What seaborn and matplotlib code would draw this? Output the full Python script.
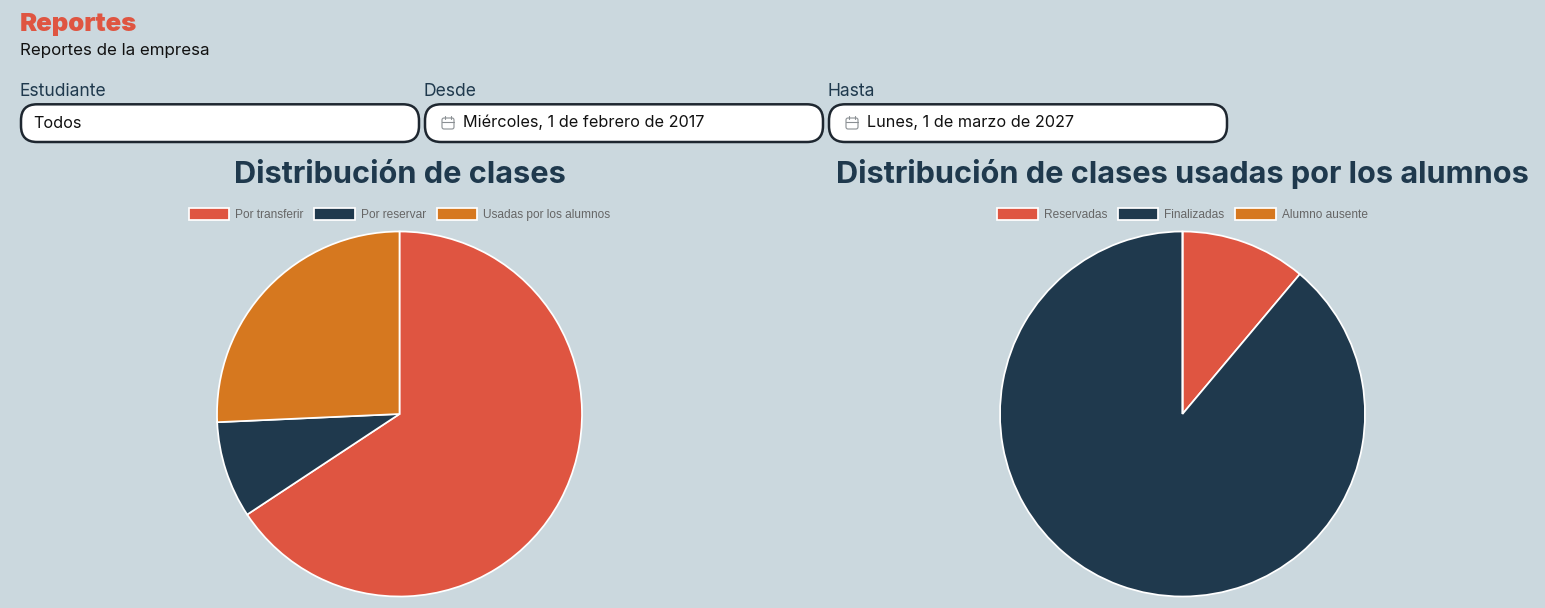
import matplotlib
matplotlib.use("Agg")
import matplotlib.pyplot as plt
from matplotlib.patches import FancyBboxPatch
import seaborn as sns

WIDTH, HEIGHT = 1545, 608
BG = "#CBD8DE"
RED, NAVY, ORANGE = "#DF5541", "#1F394D", "#D6781F"

page_title = "Reportes"
page_subtitle = "Reportes de la empresa"
field_labels = ["Estudiante", "Desde", "Hasta"]
field_values = ["Todos", "Miércoles, 1 de febrero de 2017", "Lunes, 1 de marzo de 2027"]

class_title = "Distribución de clases"
class_labels = ["Por transferir", "Por reservar", "Usadas por los alumnos"]
class_counts = [23, 3, 9]

used_title = "Distribución de clases usadas por los alumnos"
used_labels = ["Reservadas", "Finalizadas", "Alumno ausente"]
used_counts = [1, 8, 0]

sns.set_theme(style="white", rc={"figure.facecolor": BG, "axes.facecolor": "none"})
palette = sns.color_palette([RED, NAVY, ORANGE])
UI_FONT = "Inter"

fig = plt.figure(figsize=(WIDTH / 100, HEIGHT / 100), dpi=100)

# Full-page axes in pixel units for the header and the form fields
page = fig.add_axes([0, 0, 1, 1])
page.set_xlim(0, WIDTH)
page.set_ylim(HEIGHT, 0)
page.axis("off")

page.text(20, 31.5, page_title, color=RED, fontsize=18.5, fontweight="black",
          family=UI_FONT, va="baseline")
page.text(20, 54.5, page_subtitle, color="#111111", fontsize=12.2,
          family=UI_FONT, va="baseline")


def calendar_icon(ax, x, y):
    grey = "#8A8F93"
    ax.add_patch(FancyBboxPatch((x, y - 5), 12, 11, boxstyle="round,pad=0,rounding_size=2",
                                fc="none", ec=grey, lw=0.8))
    ax.plot([x, x + 12], [y - 1.5, y - 1.5], color=grey, lw=0.8)
    ax.plot([x + 3, x + 3], [y - 7, y - 4], color=grey, lw=0.8)
    ax.plot([x + 9, x + 9], [y - 7, y - 4], color=grey, lw=0.8)


field_lefts = [21, 425, 829]
for left, label, value, has_icon in zip(field_lefts, field_labels, field_values, [False, True, True]):
    page.text(left - 1.8, 95.5, label, color=NAVY, fontsize=12.6, family=UI_FONT, va="baseline")
    page.add_patch(FancyBboxPatch((left, 104.3), 398, 37.7,
                                  boxstyle="round,pad=0,rounding_size=16",
                                  fc="white", ec="#1E2730", lw=1.8))
    if has_icon:
        calendar_icon(page, left + 17, 123)
    page.text(left + (38 if has_icon else 12.5), 127.5, value, color="#111111",
              fontsize=11.7, family=UI_FONT, va="baseline")


def draw_pie(center_x, title, labels, counts):
    radius = 182.5
    center_y = 414
    # Square axes sized so the pie fills them exactly
    ax = fig.add_axes([(center_x - radius) / WIDTH, (HEIGHT - center_y - radius) / HEIGHT,
                       2 * radius / WIDTH, 2 * radius / HEIGHT])
    wedges, _ = ax.pie(counts, colors=palette, startangle=90, counterclock=False, radius=1,
                       wedgeprops={"edgecolor": "white", "linewidth": 1.25})
    ax.set_xlim(-1, 1)
    ax.set_ylim(-1, 1)
    for w in wedges:
        w.set_clip_on(False)
    page.text(center_x, 183, title, color=NAVY, fontsize=22.1, fontweight="bold",
              family=UI_FONT, ha="center", va="baseline")
    page.legend(wedges, labels, ncol=3, frameon=False, loc="center",
                bbox_to_anchor=(center_x / WIDTH, 1 - 214.5 / HEIGHT),
                bbox_transform=fig.transFigure,
                prop={"family": "Liberation Sans", "size": 8.6},
                labelcolor="#666666", handlelength=3.4, handleheight=1.1,
                handletextpad=0.5, columnspacing=0.9, borderpad=0, labelspacing=0)
    return ax


# Each call replaces the page legend, so keep the first one as a plain artist
first = draw_pie(399.5, class_title, class_labels, class_counts)
page.add_artist(page.get_legend())
second = draw_pie(1182.5, used_title, used_labels, used_counts)

fig.savefig("out.png", dpi=100, facecolor=BG)
